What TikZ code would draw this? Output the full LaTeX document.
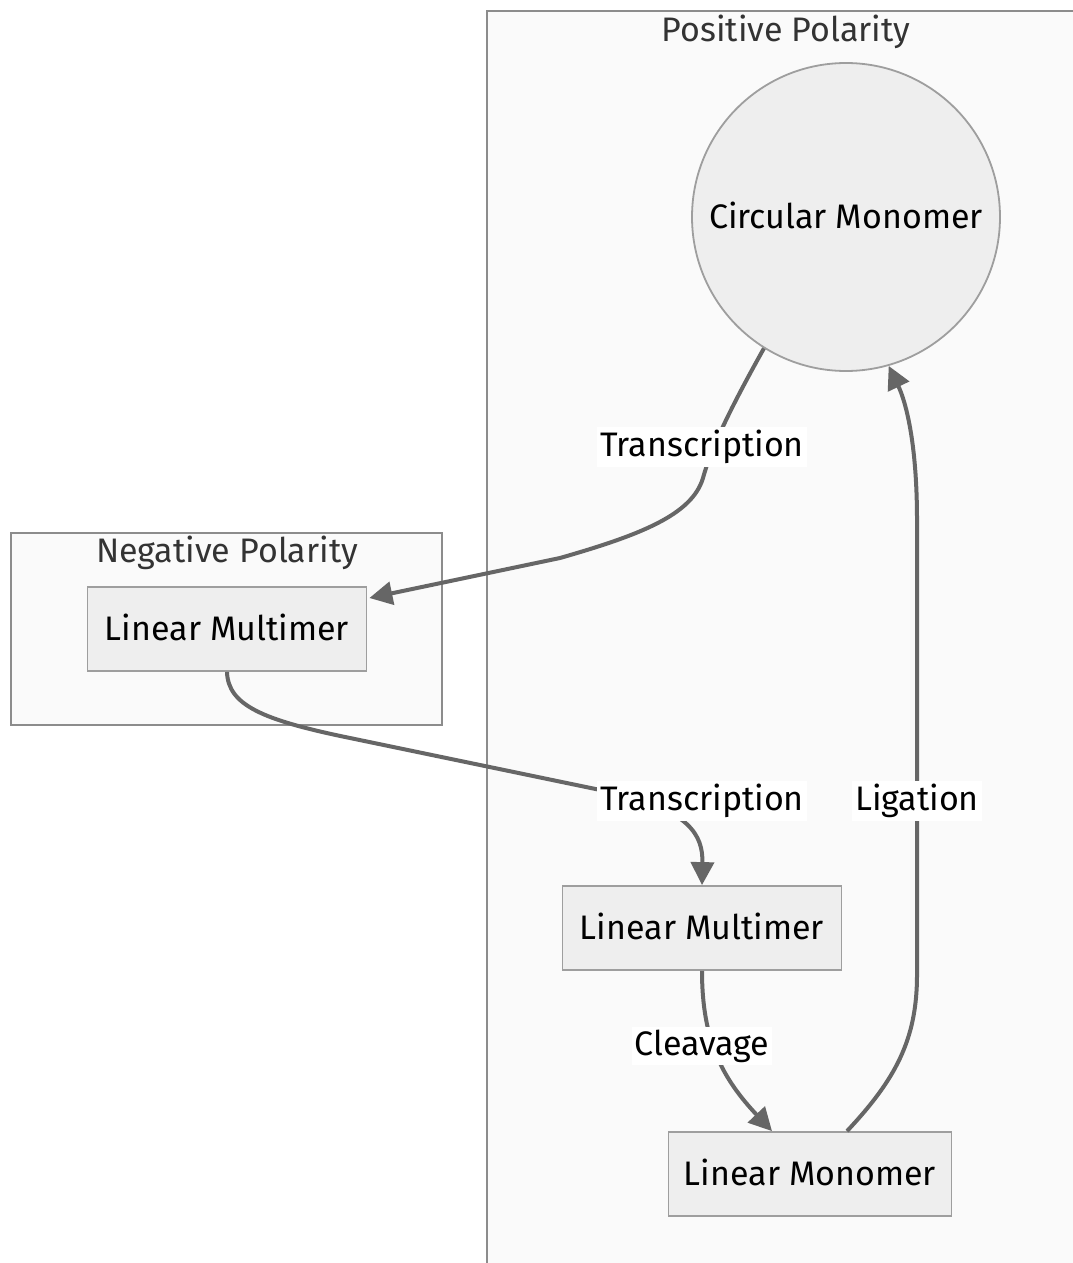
\documentclass[tikz,border=0pt]{standalone}
\usepackage{fontspec}
\setmainfont{Fira Sans}
\usetikzlibrary{arrows.meta,calc}
\definecolor{clusterfill}{HTML}{FAFAFA}
\definecolor{clusterline}{HTML}{8C8C8C}
\definecolor{nodefill}{HTML}{EEEEEE}
\definecolor{nodeline}{HTML}{9E9E9E}
\definecolor{edgecol}{HTML}{666666}
\definecolor{titlecol}{HTML}{333333}
\tikzset{
  cluster/.style={draw=clusterline, fill=clusterfill, line width=1.8pt, inner sep=0pt},
  ctitle/.style={text=titlecol, font=\fontsize{34}{40}\selectfont, inner sep=0pt},
  procbox/.style={draw=nodeline, fill=nodefill, line width=1.8pt, minimum width=279pt,
    minimum height=84pt, inner sep=0pt, font=\fontsize{34}{40}\selectfont},
  statecirc/.style={circle, draw=nodeline, fill=nodefill, line width=1.8pt,
    minimum size=308pt, inner sep=0pt, font=\fontsize{34}{40}\selectfont},
  flow/.style={draw=edgecol, line width=4pt, -{Triangle[length=23pt,width=23pt]}},
  elabel/.style={fill=white, inner sep=3pt, font=\fontsize{34}{40}\selectfont}
}
\begin{document}
\begin{tikzpicture}[x=1pt,y=-1pt]
\useasboundingbox (0,0) rectangle (1073,1263);
\clip (0,0) rectangle (1073,1263);
\fill[white] (0,0) rectangle (1073,1263);

% subgraph frames
\node[cluster, anchor=north west, minimum width=640pt, minimum height=1320pt] (pos) at (486,10) {};
\node[ctitle] (postitle) at (786,32) {Positive Polarity};
\node[cluster, minimum width=431pt, minimum height=192pt] (neg) at (226.5,629) {};
\node[ctitle] (negtitle) at (227,553) {Negative Polarity};

% states
\node[statecirc] (circ) at (846,217) {\raisebox{4pt}{Circular Monomer}};
\node[procbox] (lmneg) at (227,629) {\raisebox{4pt}{Linear Multimer}};
\node[procbox] (lmpos) at (702,928) {\raisebox{4pt}{Linear Multimer}};
\node[procbox, minimum width=283pt] (mono) at (810,1174) {\raisebox{4pt}{Linear Monomer}};

% transitions
\draw[flow] (circ.238) .. controls (735,400) and (712,445) .. (703,478)
  .. controls (692,515) and (640,535) .. (560,558) -- ($(lmneg.east)+(2,-31)$);
\draw[flow] (lmneg.south) .. controls (228,705) and (262,720) .. (350,738)
  -- (610,792) .. controls (690,810) and (703,835) .. (lmpos.north);
\draw[flow] (lmpos.south) .. controls (702,1040) and (722,1078) .. ($(mono.north)+(-38,0)$);
\draw[flow] ($(mono.north)+(37,0)$) .. controls (895,1080) and (917,1040) .. (917,975)
  -- (917,520) .. controls (917,440) and (905,400) .. (circ.286.6);

% transition labels
\node[elabel] (t1) at (702,447) {Transcription};
\node[elabel] (t2) at (702,801) {Transcription};
\node[elabel] (lig) at (917,801) {Ligation};
\node[elabel] (clv) at (702,1046) {Cleavage};
\end{tikzpicture}
\end{document}
